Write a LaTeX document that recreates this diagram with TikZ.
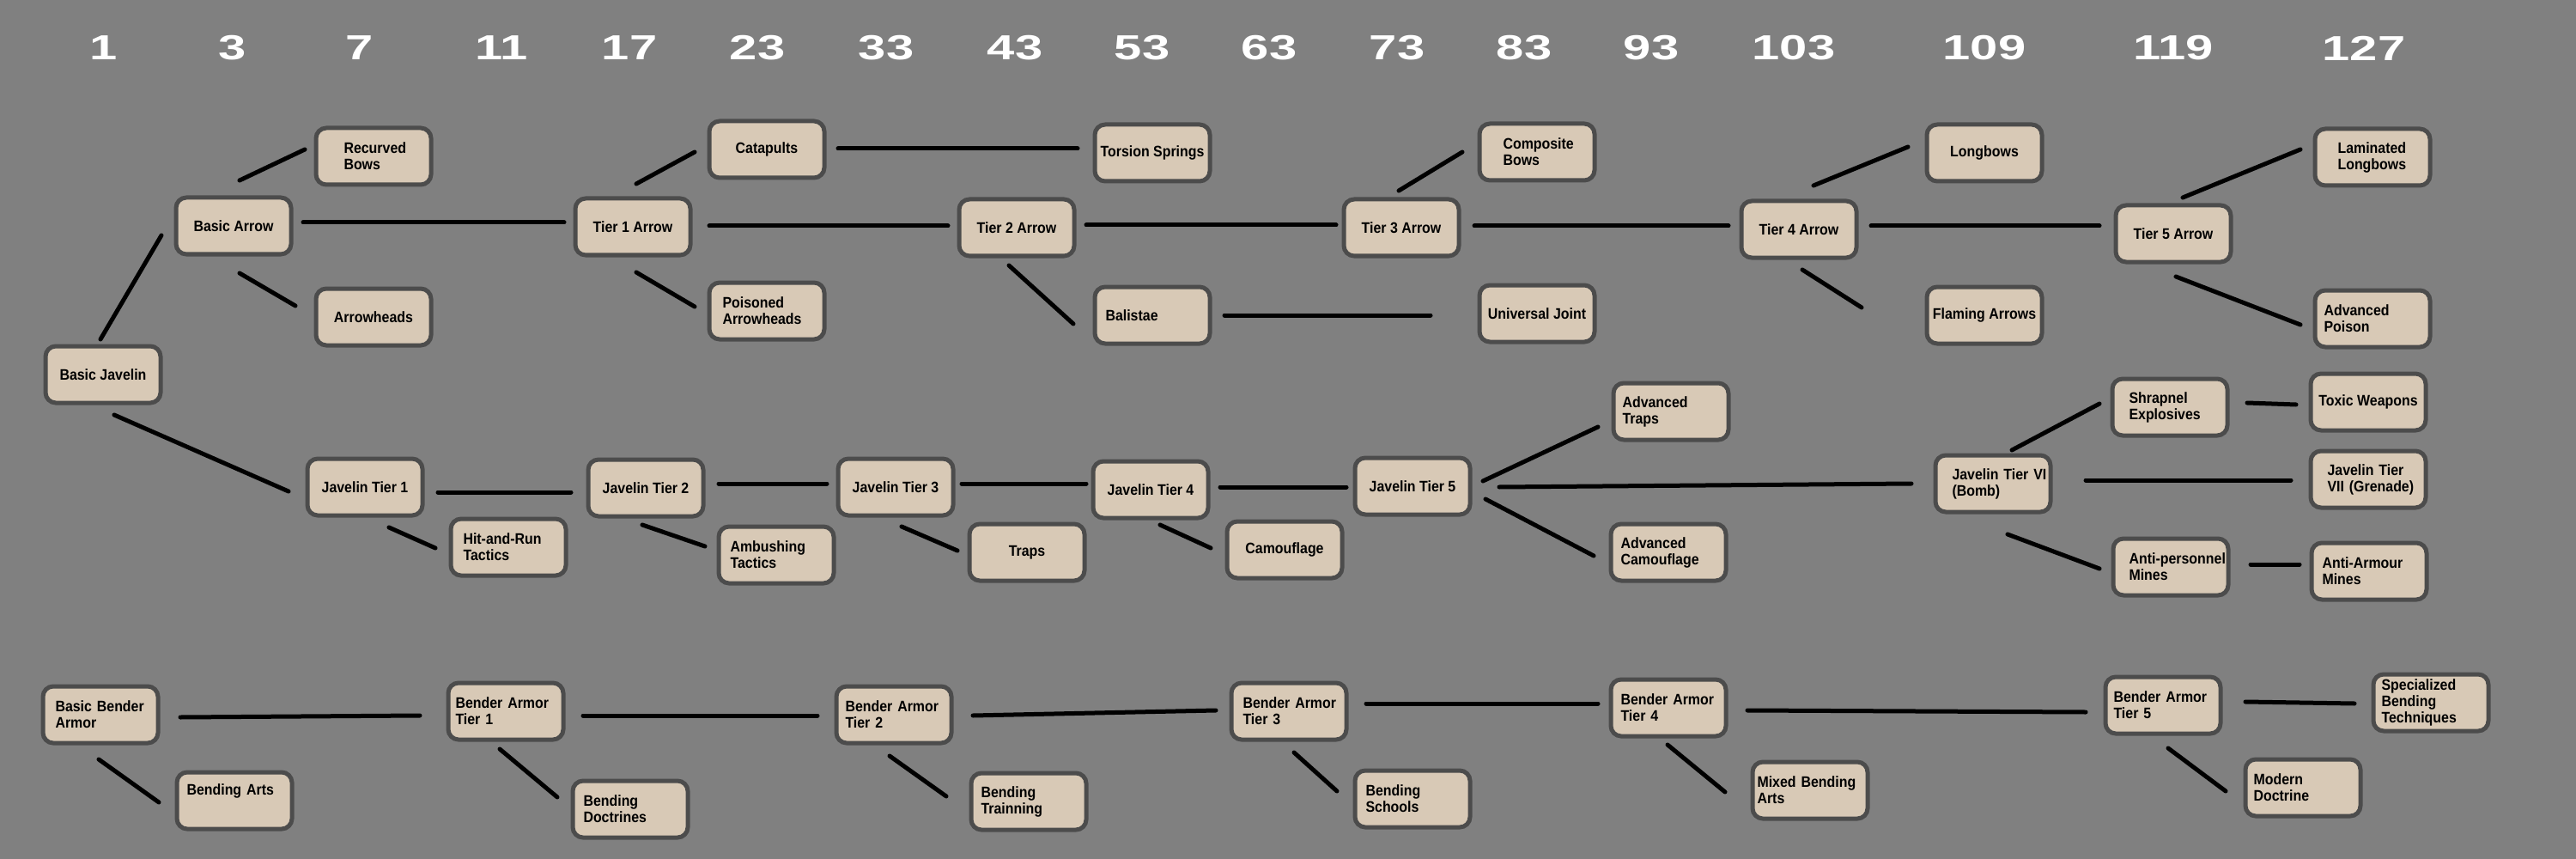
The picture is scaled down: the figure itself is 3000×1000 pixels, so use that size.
\documentclass[tikz,border=0pt]{standalone}
\usepackage{fontspec}
\setmainfont{Liberation Sans}
\newfontfamily\boxfont{Liberation Sans}[FakeStretch=0.9]
\newfontfamily\numfont{Liberation Sans}[FakeStretch=1.43]
\definecolor{bg}{RGB}{128,128,128}
\definecolor{boxfill}{RGB}{216,201,182}
\definecolor{boxline}{RGB}{76,76,76}
\begin{document}
\begin{tikzpicture}[x=1pt,y=-1pt,
  tech/.style={draw=boxline, fill=boxfill, line width=5pt, rounded corners=12pt,
    minimum width=134pt, minimum height=66pt, inner sep=0pt, text=black,
    font=\boxfont\bfseries\fontsize{17.7}{19}\selectfont},
  ltech/.style={tech, align=left, text width=#1},
  conn/.style={line width=5pt, line cap=round, draw=black},
  num/.style={text=white, inner sep=0pt, font=\numfont\bfseries\fontsize{40.5}{44}\selectfont}]
\fill[bg] (0,0) rectangle (3000,1000);
\useasboundingbox (0,0) rectangle (3000,1000);

% level numbers
\node[num] (n1) at (121,56) {1};
\node[num] (n3) at (271,56) {3};
\node[num] (n7) at (419,56) {7};
\node[num] (n11) at (584,56) {11};
\node[num] (n17) at (733,56) {17};
\node[num] (n23) at (882,56) {23};
\node[num] (n33) at (1032,56) {33};
\node[num] (n43) at (1182,56) {43};
\node[num] (n53) at (1330,56) {53};
\node[num] (n63) at (1478,56) {63};
\node[num] (n73) at (1627,56) {73};
\node[num] (n83) at (1775,56) {83};
\node[num] (n93) at (1923,56) {93};
\node[num] (n103) at (2089,56) {103};
\node[num] (n109) at (2311,56) {109};
\node[num] (n119) at (2531,56) {119};
\node[num] (n127) at (2753,56) {127};

% arrow row
\node[tech] (bj) at (120,436) {Basic Javelin};
\node[tech] (ba) at (272,263) {Basic Arrow};
\node[ltech=69pt] (rb) at (435,182) {\mbox{Recurved}\\\mbox{Bows}};
\node[tech] (ah) at (435,369) {Arrowheads};
\node[tech] (t1) at (737,264) {Tier 1 Arrow};
\node[tech] (cat) at (893,174) {Catapults};
\node[ltech=103pt] (pa) at (893,362) {\mbox{Poisoned}\\\mbox{Arrowheads}};
\node[tech] (ts) at (1342,178) {Torsion Springs};
\node[tech] (t2) at (1184,265) {Tier 2 Arrow};
\node[ltech=109pt] (bal) at (1342,367) {\mbox{Balistae}};
\node[tech] (t3) at (1632,265) {Tier 3 Arrow};
\node[ltech=79pt] (cb) at (1790,177) {\mbox{Composite}\\\mbox{Bows}};
\node[tech] (uj) at (1790,365) {Universal Joint};
\node[tech] (t4) at (2095,267) {Tier 4 Arrow};
\node[tech] (lb) at (2311,178) {Longbows};
\node[tech] (fa) at (2311,367) {Flaming Arrows};
\node[tech] (t5) at (2531,272) {Tier 5 Arrow};
\node[ltech=81pt] (ll) at (2763,183) {\mbox{Laminated}\\\mbox{Longbows}};
\node[ltech=113pt] (ap) at (2763,371) {\mbox{Advanced}\\\mbox{Poison}};

% javelin row
\node[tech] (j1) at (425,567) {Javelin Tier 1};
\node[ltech=105pt] (hr) at (592,637) {\mbox{Hit-and-Run}\\\mbox{Tactics}};
\node[tech] (j2) at (752,568) {Javelin Tier 2};
\node[ltech=107pt] (amb) at (904,646) {\mbox{Ambushing}\\\mbox{Tactics}};
\node[tech] (j3) at (1043,567) {Javelin Tier 3};
\node[tech] (tr) at (1196,643) {Traps};
\node[tech] (j4) at (1340,570) {Javelin Tier 4};
\node[tech] (cam) at (1496,640) {Camouflage};
\node[tech] (j5) at (1645,566) {Javelin Tier 5};
\node[ltech=113pt] (at) at (1946,479) {\mbox{Advanced}\\\mbox{Traps}};
\node[ltech=111pt] (ac) at (1943,643) {\mbox{Advanced}\\\mbox{Camouflage}};
\node[ltech=95pt] (j6) at (2321,563) {\mbox{Javelin Tier VI}\\\mbox{(Bomb)}};
\node[ltech=95pt] (se) at (2527,474) {\mbox{Shrapnel}\\\mbox{Explosives}};
\node[tech] (tw) at (2758,468) {Toxic Weapons};
\node[ltech=95pt] (j7) at (2758,558) {\mbox{Javelin Tier}\\\mbox{VII (Grenade)}};
\node[ltech=97pt] (apm) at (2528,660) {\mbox{Anti-personnel}\\\mbox{Mines}};
\node[ltech=109pt] (aam) at (2759,665) {\mbox{Anti-Armour}\\\mbox{Mines}};

% bender row
\node[ltech=105pt] (bba) at (117,832) {\mbox{Basic Bender}\\\mbox{Armor}};
\node[ltech=111pt] (bart) at (273,932) {\mbox{Bending Arts}\\[6pt]\mbox{}};
\node[ltech=117pt] (b1) at (589,828) {\mbox{Bender Armor}\\\mbox{Tier 1}};
\node[ltech=109pt] (bd) at (734,942) {\mbox{Bending}\\\mbox{Doctrines}};
\node[ltech=113pt] (b2) at (1041,832) {\mbox{Bender Armor}\\\mbox{Tier 2}};
\node[ltech=111pt] (btr) at (1198,933) {\mbox{Bending}\\\mbox{Trainning}};
\node[ltech=107pt] (b3) at (1501,828) {\mbox{Bender Armor}\\\mbox{Tier 3}};
\node[ltech=109pt] (bs) at (1645,930) {\mbox{Bending}\\\mbox{Schools}};
\node[ltech=111pt] (b4) at (1943,824) {\mbox{Bender Armor}\\\mbox{Tier 4}};
\node[ltech=123pt] (mba) at (2108,920) {\mbox{Mixed Bending}\\\mbox{Arts}};
\node[ltech=115pt] (b5) at (2519,821) {\mbox{Bender Armor}\\\mbox{Tier 5}};
\node[ltech=115pt] (sbt) at (2831,818) {\mbox{Specialized}\\\mbox{Bending}\\\mbox{Techniques}};
\node[ltech=115pt] (md) at (2682,917) {\mbox{Modern}\\\mbox{Doctrine}};

% connectors: arrow row
\draw[conn] ([shift={(-3,-41)}]bj.center) -- ([shift={(-84,11)}]ba.center);
\draw[conn] ([shift={(7,-53)}]ba.center) -- ([shift={(-80,-8)}]rb.center);
\draw[conn] ([shift={(7,55)}]ba.center) -- ([shift={(-91,-13)}]ah.center);
\draw[conn] ([shift={(81,-4)}]ba.center) -- ([shift={(-80,-5)}]t1.center);
\draw[conn] ([shift={(4,-50)}]t1.center) -- ([shift={(-84,3)}]cat.center);
\draw[conn] ([shift={(4,53)}]t1.center) -- ([shift={(-84,-5)}]pa.center);
\draw[conn] ([shift={(89,-1)}]t1.center) -- ([shift={(-80,-2)}]t2.center);
\draw[conn] ([shift={(83,-1)}]cat.center) -- ([shift={(-87,-5)}]ts.center);
\draw[conn] ([shift={(81,-3)}]t2.center) -- ([shift={(-76,-3)}]t3.center);
\draw[conn] ([shift={(-9,44)}]t2.center) -- ([shift={(-92,10)}]bal.center);
\draw[conn] ([shift={(84,0)}]bal.center) -- ([shift={(-124,2)}]uj.center);
\draw[conn] ([shift={(-3,-43)}]t3.center) -- ([shift={(-87,0)}]cb.center);
\draw[conn] ([shift={(85,-2)}]t3.center) -- ([shift={(-82,-4)}]t4.center);
\draw[conn] ([shift={(17,-51)}]t4.center) -- ([shift={(-89,-7)}]lb.center);
\draw[conn] ([shift={(4,47)}]t4.center) -- ([shift={(-143,-9)}]fa.center);
\draw[conn] ([shift={(84,-4)}]t4.center) -- ([shift={(-86,-9)}]t5.center);
\draw[conn] ([shift={(11,-42)}]t5.center) -- ([shift={(-84,-9)}]ll.center);
\draw[conn] ([shift={(3,50)}]t5.center) -- ([shift={(-84,7)}]ap.center);

% connectors: javelin row
\draw[conn] ([shift={(13,47)}]bj.center) -- ([shift={(-89,5)}]j1.center);
\draw[conn] ([shift={(28,47)}]j1.center) -- ([shift={(-85,1)}]hr.center);
\draw[conn] ([shift={(85,6)}]j1.center) -- ([shift={(-87,5)}]j2.center);
\draw[conn] ([shift={(-4,43)}]j2.center) -- ([shift={(-83,-10)}]amb.center);
\draw[conn] ([shift={(85,-5)}]j2.center) -- ([shift={(-80,-4)}]j3.center);
\draw[conn] ([shift={(7,46)}]j3.center) -- ([shift={(-81,-2)}]tr.center);
\draw[conn] ([shift={(77,-4)}]j3.center) -- ([shift={(-75,-7)}]j4.center);
\draw[conn] ([shift={(11,41)}]j4.center) -- ([shift={(-86,-2)}]cam.center);
\draw[conn] ([shift={(81,-3)}]j4.center) -- ([shift={(-77,1)}]j5.center);
\draw[conn] ([shift={(82,-6)}]j5.center) -- ([shift={(-85,18)}]at.center);
\draw[conn] ([shift={(101,1)}]j5.center) -- ([shift={(-95,0)}]j6.center);
\draw[conn] ([shift={(85,15)}]j5.center) -- ([shift={(-87,4)}]ac.center);
\draw[conn] ([shift={(22,-39)}]j6.center) -- ([shift={(-82,-4)}]se.center);
\draw[conn] ([shift={(90,-5)}]se.center) -- ([shift={(-84,3)}]tw.center);
\draw[conn] ([shift={(108,-4)}]j6.center) -- ([shift={(-90,1)}]j7.center);
\draw[conn] ([shift={(17,59)}]j6.center) -- ([shift={(-83,2)}]apm.center);
\draw[conn] ([shift={(93,-3)}]apm.center) -- ([shift={(-81,-8)}]aam.center);

% connectors: bender row
\draw[conn] ([shift={(93,3)}]bba.center) -- ([shift={(-100,5)}]b1.center);
\draw[conn] ([shift={(-2,52)}]bba.center) -- ([shift={(-88,2)}]bart.center);
\draw[conn] ([shift={(-7,44)}]b1.center) -- ([shift={(-85,-14)}]bd.center);
\draw[conn] ([shift={(90,5)}]b1.center) -- ([shift={(-89,1)}]b2.center);
\draw[conn] ([shift={(-5,48)}]b2.center) -- ([shift={(-96,-6)}]btr.center);
\draw[conn] ([shift={(92,1)}]b2.center) -- ([shift={(-85,-1)}]b3.center);
\draw[conn] ([shift={(6,48)}]b3.center) -- ([shift={(-88,-9)}]bs.center);
\draw[conn] ([shift={(90,-9)}]b3.center) -- ([shift={(-82,-5)}]b4.center);
\draw[conn] ([shift={(-1,43)}]b4.center) -- ([shift={(-99,2)}]mba.center);
\draw[conn] ([shift={(92,3)}]b4.center) -- ([shift={(-90,8)}]b5.center);
\draw[conn] ([shift={(96,-4)}]b5.center) -- ([shift={(-89,1)}]sbt.center);
\draw[conn] ([shift={(6,50)}]b5.center) -- ([shift={(-90,4)}]md.center);
\end{tikzpicture}
\end{document}
